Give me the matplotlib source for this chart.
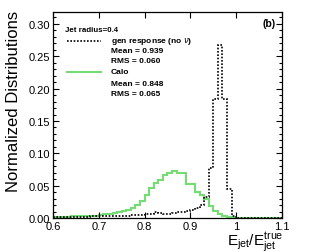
import numpy as np
import matplotlib
matplotlib.use("Agg")
import matplotlib.pyplot as plt
from matplotlib.ticker import MultipleLocator

plt.rcParams['font.family'] = ['Liberation Sans', 'DejaVu Sans']
plt.rcParams['mathtext.fontset'] = 'custom'
plt.rcParams['mathtext.rm'] = 'Liberation Sans'

# histogram binning (0.01 wide bins from 0.6 to 1.1)
bin_edges = np.round(np.arange(0.60, 1.1001, 0.01), 2)

# gen response (no nu), dotted black
gen_values = [
    0.002, 0.002, 0.002, 0.002, 0.002, 0.002, 0.002, 0.002, 0.003, 0.003,
    0.003, 0.003, 0.003, 0.004, 0.004, 0.004, 0.004, 0.005, 0.005, 0.005,
    0.006, 0.006, 0.009, 0.008, 0.007, 0.007, 0.008, 0.009, 0.010, 0.011,
    0.013, 0.016, 0.021, 0.032, 0.078, 0.184, 0.268, 0.184, 0.045, 0.003,
    0.0, 0.0, 0.0, 0.0, 0.0, 0.0, 0.0, 0.0, 0.0, 0.0,
]

# Calo response, green
calo_values = [
    0.002, 0.002, 0.002, 0.002, 0.003, 0.003, 0.003, 0.003, 0.004, 0.004,
    0.005, 0.006, 0.007, 0.008, 0.009, 0.011, 0.013, 0.016, 0.020, 0.027,
    0.036, 0.046, 0.054, 0.059, 0.066, 0.070, 0.073, 0.069, 0.069, 0.053,
    0.053, 0.040, 0.035, 0.030, 0.019, 0.011, 0.006, 0.004, 0.002, 0.001,
    0.0005, 0.0005, 0.0005, 0.0005, 0.0005, 0.0005, 0.0005, 0.0005, 0.0005, 0.0005,
]

legend_header = "Jet radius=0.4"
gen_label = ["gen response (no $\\nu$)", "Mean = 0.939", "RMS = 0.060"]
calo_label = ["Calo", "Mean = 0.848", "RMS = 0.065"]

green = '#73dc73'

fig = plt.figure(figsize=(3.32, 2.53), dpi=100)
ax = fig.add_axes([0.160, 0.134, 0.689, 0.815])

ax.stairs(calo_values, bin_edges, color=green, lw=1.5, baseline=None)
ax.stairs(gen_values, bin_edges, color='black', lw=1.2, ls=(0, (1, 1)), baseline=None)

ax.set_xlim(0.6, 1.1)
ax.set_ylim(0, 0.3186)
ax.yaxis.set_major_locator(MultipleLocator(0.05))
ax.yaxis.set_minor_locator(MultipleLocator(0.01))
ax.set_xticks([0.6, 0.7, 0.8, 0.9, 1.0, 1.1])
ax.set_xticklabels(['0.6', '0.7', '0.8', '0.9', '1', '1.1'])
ax.set_yticks([0.0, 0.05, 0.10, 0.15, 0.20, 0.25, 0.30])
ax.set_yticklabels(['0.00', '0.05', '0.10', '0.15', '0.20', '0.25', '0.30'])
ax.tick_params(which='both', direction='in', top=True, right=True, labelsize=8, pad=2)
ax.tick_params(which='major', length=4, width=0.8)
ax.tick_params(which='minor', length=2, width=0.8)
for s in ax.spines.values():
    s.set_linewidth(0.9)

fig.text(14 / 332, 1 - 11 / 253, 'Normalized Distributions', rotation=90,
         ha='center', va='top', fontsize=12)
fig.text(283 / 332, 1 - 246 / 253, r'$\mathregular{E_{jet}/E^{true}_{jet}}$',
         ha='right', va='baseline', fontsize=11)

# legend block
fs = 6
ax.text(0.052, 0.913, legend_header, transform=ax.transAxes, fontsize=5.7,
        fontweight='bold', va='center')
rows = [0.859, 0.811, 0.762, 0.709, 0.655, 0.602]
for txt, y in zip(gen_label + calo_label, rows):
    ax.text(0.253, y, txt, transform=ax.transAxes, fontsize=fs,
            fontweight='bold', va='center')
ax.plot([0.061, 0.21], [rows[0], rows[0]], transform=ax.transAxes,
        color='black', lw=1.2, ls=(0, (1, 1)))
ax.plot([0.061, 0.21], [rows[3], rows[3]], transform=ax.transAxes,
        color=green, lw=1.5)
ax.text(0.974, 0.947, '(b)', transform=ax.transAxes, fontsize=7.5,
        fontweight='bold', ha='right', va='center')

fig.savefig('out.png', dpi=100)
